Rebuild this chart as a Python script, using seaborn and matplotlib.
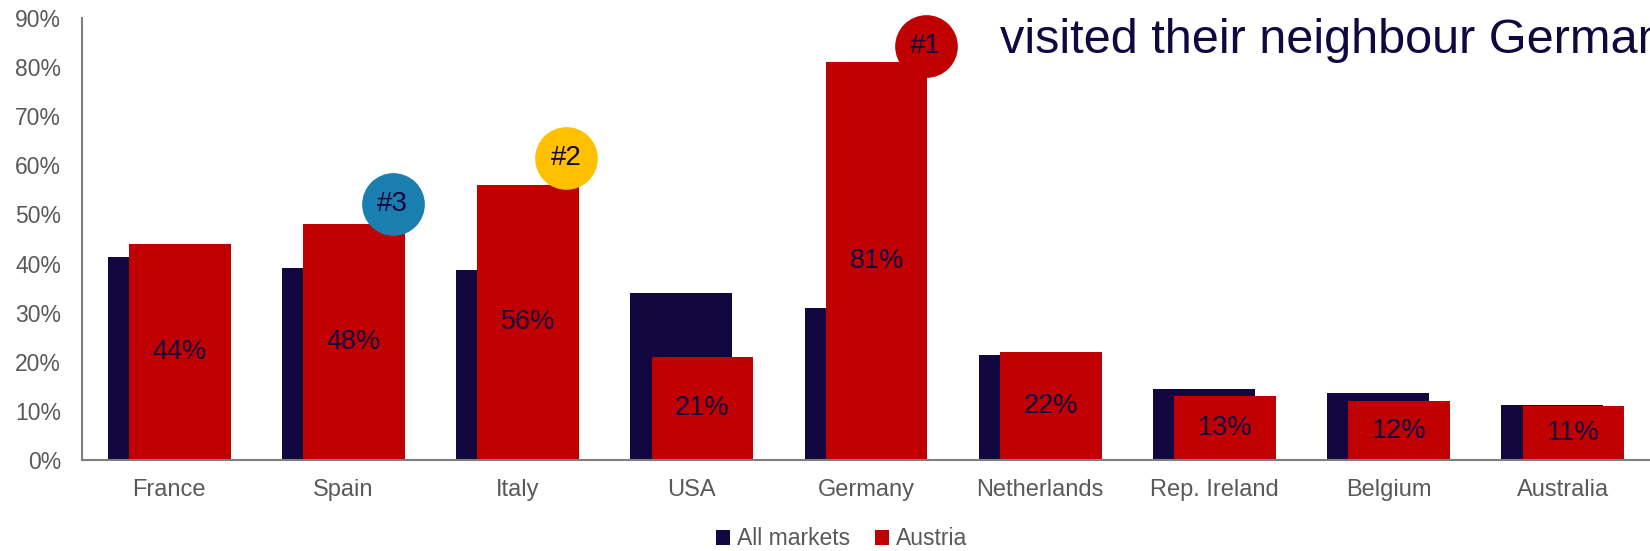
import matplotlib
matplotlib.use("Agg")
import matplotlib.pyplot as plt
import seaborn as sns
import pandas as pd

# ---- data -------------------------------------------------------------
countries = ["France", "Spain", "Italy", "USA", "Germany",
             "Netherlands", "Rep. Ireland", "Belgium", "Australia"]
all_markets = [41.3, 39.0, 38.6, 34.1, 30.9, 21.4, 14.4, 13.7, 11.1]
austria = [44, 48, 56, 21, 81, 22, 13, 12, 11]
series_names = ["All markets", "Austria"]
y_ticks = [0, 10, 20, 30, 40, 50, 60, 70, 80, 90]

rank_labels = ["#1", "#2", "#3"]
rank_countries = ["Germany", "Italy", "Spain"]

headline = "visited their neighbour Germany"

# ---- style ------------------------------------------------------------
NAVY = "#12083F"
RED = "#C00000"
GREY = "#595959"
AXIS_GREY = "#7F7F7F"
rank_colors = ["#C00000", "#FFC000", "#1A7EAF"]
# badge placement relative to the top-right of the ranked bar (category units, % points)
badge_dx = [0.342, 0.277, 0.283]
badge_dy = [3.2, 5.5, 4.1]

sns.set_style("white")
plt.rcParams["font.family"] = ["Liberation Sans", "DejaVu Sans"]

df = pd.DataFrame({
    "country": countries * 2,
    "series": [series_names[0]] * len(countries) + [series_names[1]] * len(countries),
    "value": all_markets + austria,
})

fig = plt.figure(figsize=(16.5, 5.51), dpi=100)
ax = fig.add_axes([0.0497, 0.1652, 0.9503, 0.8021])

# Overlapping bars: narrow dodge with a negative gap widens each bar over its neighbour
sns.barplot(data=df, x="country", y="value", hue="series",
            hue_order=series_names, order=countries,
            palette=[NAVY, RED], width=0.244, gap=-3.78,
            linewidth=0, saturation=1, errorbar=None, ax=ax)

ax.set_ylim(0, 90)
ax.set_xlim(-0.5, len(countries) - 0.5)
ax.set_yticks(y_ticks)
ax.set_yticklabels([f"{t}%" for t in y_ticks])
ax.set_xlabel("")
ax.set_ylabel("")
ax.tick_params(axis="y", length=0, pad=15, labelsize=16.5, labelcolor=GREY)
ax.tick_params(axis="x", length=0, pad=14, labelsize=17, labelcolor=GREY)

for side in ["top", "right"]:
    ax.spines[side].set_visible(False)
for side in ["left", "bottom"]:
    ax.spines[side].set_color(AXIS_GREY)
    ax.spines[side].set_linewidth(1.5)

# Value labels centred inside the Austria bars
ax.bar_label(ax.containers[1], labels=[f"{v}%" for v in austria],
             label_type="center", fontsize=19.5, color=NAVY)

# Rank badges
for lab, country, col, dx, dy in zip(rank_labels, rank_countries, rank_colors,
                                     badge_dx, badge_dy):
    i = countries.index(country)
    bx, by = i + dx, austria[i] + dy
    ax.scatter([bx], [by], s=2036, color=col, linewidths=0,
               zorder=4, clip_on=False)
    ax.text(bx, by, lab, ha="center", va="center", fontsize=20,
            color=NAVY, zorder=5, clip_on=False)

# Legend
sns.move_legend(ax, "center", bbox_to_anchor=(0.510, 0.0218),
                bbox_transform=fig.transFigure, ncol=2, frameon=False,
                title=None, fontsize=16.5, handlelength=0.6,
                handleheight=0.6, handletextpad=0.3, columnspacing=1.1)
for t in ax.get_legend().get_texts():
    t.set_color(GREY)

# Headline
fig.text(1000 / 1650, 1 - 53 / 551, headline, fontsize=35, color=NAVY,
         ha="left", va="baseline")

fig.savefig("out.png", dpi=100)
